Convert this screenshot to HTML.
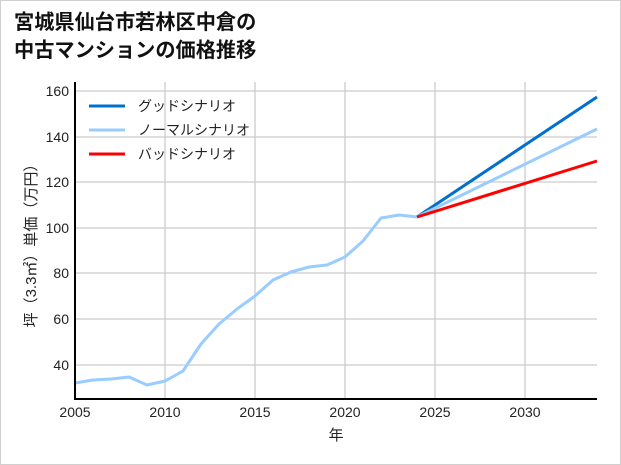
<!DOCTYPE html>
<html><head><meta charset="utf-8"><style>
body{margin:0;background:#fff}
.w{width:619px;height:463px;border:1px solid #d0d0d0;position:relative;background:#fff;font-family:"Liberation Sans","Noto Sans CJK JP",sans-serif}
</style></head><body><div class="w">
<svg width="619" height="463" viewBox="1 1 619 463" style="position:absolute;left:0;top:0" font-family="Liberation Sans, Noto Sans CJK JP, sans-serif">
<text x="14" y="29" font-size="20.2" font-weight="bold" fill="#111">宮城県仙台市若林区中倉の</text>
<text x="14" y="57" font-size="20.2" font-weight="bold" fill="#111">中古マンションの価格推移</text>
<g stroke="#cccccc" stroke-width="1.3">
<line x1="165" y1="82" x2="165" y2="399"/><line x1="255" y1="82" x2="255" y2="399"/><line x1="345" y1="82" x2="345" y2="399"/><line x1="435" y1="82" x2="435" y2="399"/><line x1="525" y1="82" x2="525" y2="399"/>
<line x1="75" y1="91" x2="597" y2="91"/><line x1="75" y1="137" x2="597" y2="137"/><line x1="75" y1="182" x2="597" y2="182"/><line x1="75" y1="228" x2="597" y2="228"/><line x1="75" y1="273" x2="597" y2="273"/><line x1="75" y1="319" x2="597" y2="319"/><line x1="75" y1="365" x2="597" y2="365"/>
</g>
<polyline fill="none" stroke="#99ccff" stroke-width="3" stroke-linejoin="round" points="75,383 93,380 111,379 129,377 147,385 165,381 183,371 201,344 219,324 237,309 255,296 273,280 291,272 309,267 327,265 345,257 363,241 381,218 399,215 417,217"/>
<line x1="417" y1="217" x2="597" y2="97" stroke="#0070cc" stroke-width="3"/>
<line x1="417" y1="217" x2="597" y2="129" stroke="#99ccff" stroke-width="3"/>
<line x1="417" y1="217" x2="597" y2="161" stroke="#ff0000" stroke-width="3"/>
<line x1="75" y1="82" x2="75" y2="400" stroke="#000" stroke-width="2"/>
<line x1="74" y1="399" x2="597" y2="399" stroke="#000" stroke-width="2"/>
<g font-size="14" fill="#222" text-anchor="end">
<text x="69" y="96">160</text><text x="69" y="142">140</text><text x="69" y="187">120</text><text x="69" y="233">100</text><text x="69" y="278">80</text><text x="69" y="324">60</text><text x="69" y="370">40</text>
</g>
<g font-size="14" fill="#222" text-anchor="middle">
<text x="75" y="417">2005</text><text x="165" y="417">2010</text><text x="255" y="417">2015</text><text x="345" y="417">2020</text><text x="435" y="417">2025</text><text x="525" y="417">2030</text>
<text x="336" y="440" font-size="15">年</text>
</g>
<text transform="translate(36,242) rotate(-90)" font-size="15" fill="#222" text-anchor="middle">坪（3.3㎡）単価（万円）</text>
<line x1="89" y1="106" x2="125" y2="106" stroke="#0070cc" stroke-width="3"/>
<line x1="89" y1="130" x2="125" y2="130" stroke="#99ccff" stroke-width="3"/>
<line x1="89" y1="154" x2="125" y2="154" stroke="#ff0000" stroke-width="3"/>
<g font-size="14" fill="#222">
<text x="138" y="111">グッドシナリオ</text><text x="138" y="135">ノーマルシナリオ</text><text x="138" y="159">バッドシナリオ</text>
</g>
</svg></div></body></html>
